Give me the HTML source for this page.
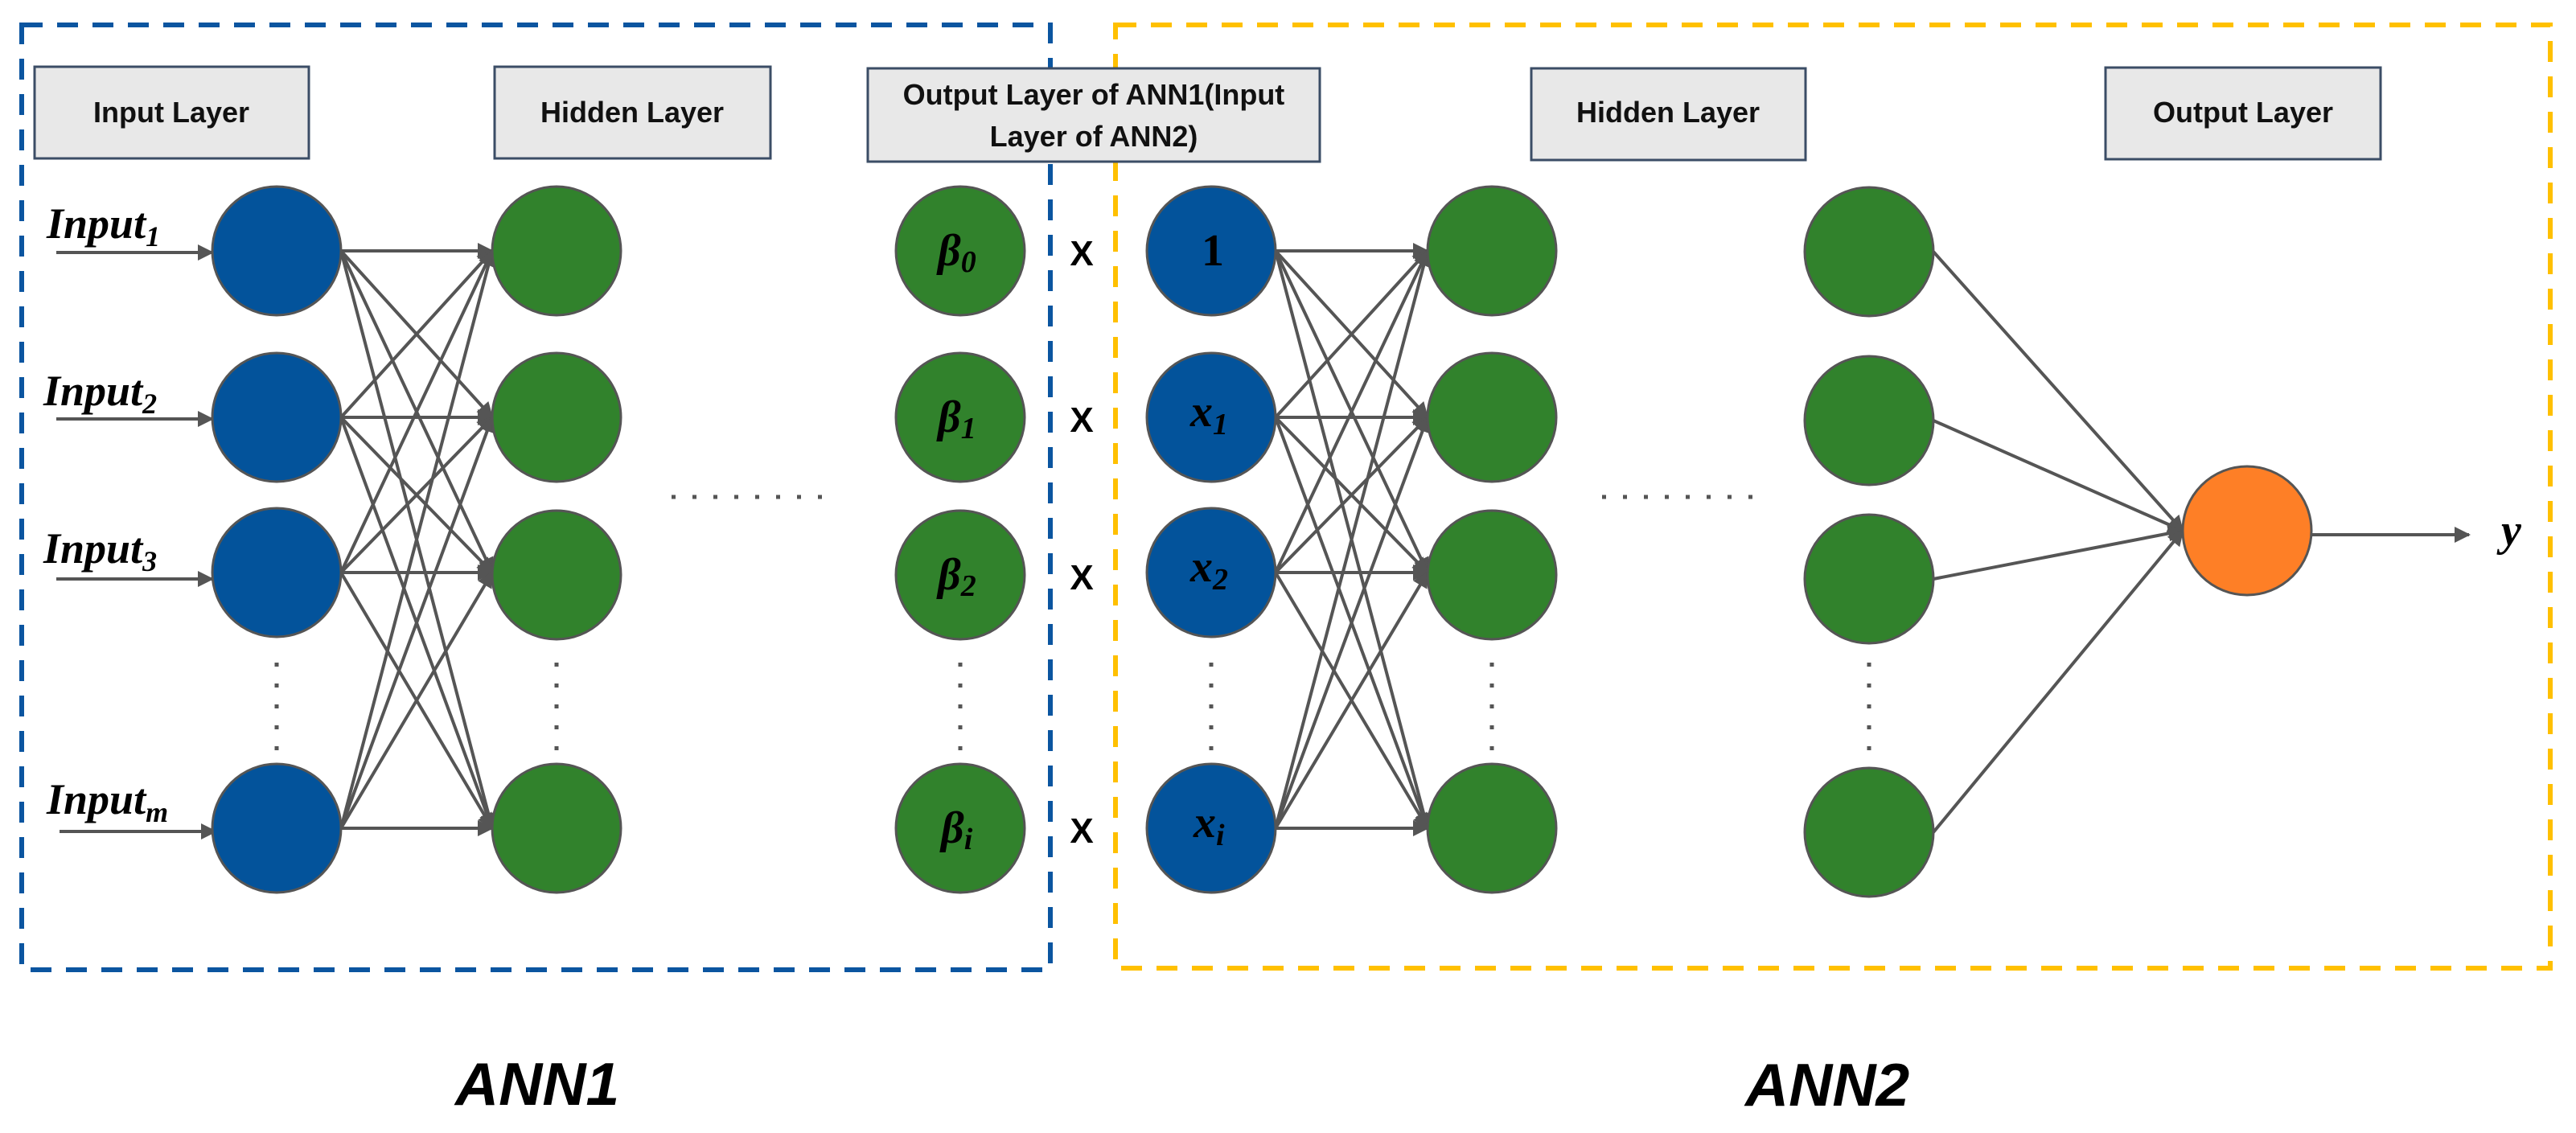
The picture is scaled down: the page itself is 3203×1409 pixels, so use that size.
<!DOCTYPE html>
<html><head><meta charset="utf-8"><style>
html,body{margin:0;padding:0;background:#fff;}
svg{display:block;}
.lbl{font-family:"Liberation Sans",sans-serif;font-weight:bold;font-size:36px;fill:#111;}
.m{font-family:"Liberation Serif",serif;font-style:italic;font-weight:bold;fill:#000;}
</style></head><body>
<svg width="3203" height="1409" viewBox="0 0 3203 1409" xmlns="http://www.w3.org/2000/svg">
<defs>
<marker id="a" viewBox="0 0 10 10" refX="9" refY="5" markerWidth="24" markerHeight="20" markerUnits="userSpaceOnUse" orient="auto"><path d="M0,0 L10,5 L0,10 z" fill="#555"/></marker>
</defs>
<rect x="27" y="31" width="1279" height="1175" fill="none" stroke="#0b55a0" stroke-width="6" stroke-dasharray="26,18"/>
<rect x="1387" y="31" width="1784" height="1173" fill="none" stroke="#ffc000" stroke-width="6" stroke-dasharray="26,18"/>

<g stroke="#3b4d66" stroke-width="3" fill="#e8e8e8">
<rect x="43" y="83" width="341" height="114"/>
<rect x="615" y="83" width="343" height="114"/>
<rect x="1079" y="85" width="562" height="116"/>
<rect x="1904" y="85" width="341" height="114"/>
<rect x="2618" y="84" width="342" height="114"/>
</g>
<text class="lbl" x="213" y="152" text-anchor="middle">Input Layer</text>
<text class="lbl" x="786" y="152" text-anchor="middle">Hidden Layer</text>
<text class="lbl" x="1360" y="130" text-anchor="middle">Output Layer of ANN1(Input</text>
<text class="lbl" x="1360" y="182" text-anchor="middle">Layer of ANN2)</text>
<text class="lbl" x="2074" y="152" text-anchor="middle">Hidden Layer</text>
<text class="lbl" x="2789" y="152" text-anchor="middle">Output Layer</text>

<g stroke="#555" stroke-width="4" fill="none" marker-end="url(#a)">
<line x1="424" y1="312" x2="612" y2="312"/><line x1="424" y1="312" x2="612" y2="519"/><line x1="424" y1="312" x2="612" y2="712"/><line x1="424" y1="312" x2="612" y2="1030"/>
<line x1="424" y1="519" x2="612" y2="312"/><line x1="424" y1="519" x2="612" y2="519"/><line x1="424" y1="519" x2="612" y2="712"/><line x1="424" y1="519" x2="612" y2="1030"/>
<line x1="424" y1="712" x2="612" y2="312"/><line x1="424" y1="712" x2="612" y2="519"/><line x1="424" y1="712" x2="612" y2="712"/><line x1="424" y1="712" x2="612" y2="1030"/>
<line x1="424" y1="1030" x2="612" y2="312"/><line x1="424" y1="1030" x2="612" y2="519"/><line x1="424" y1="1030" x2="612" y2="712"/><line x1="424" y1="1030" x2="612" y2="1030"/>
<line x1="1586" y1="312" x2="1775" y2="312"/><line x1="1586" y1="312" x2="1775" y2="519"/><line x1="1586" y1="312" x2="1775" y2="712"/><line x1="1586" y1="312" x2="1775" y2="1030"/>
<line x1="1586" y1="519" x2="1775" y2="312"/><line x1="1586" y1="519" x2="1775" y2="519"/><line x1="1586" y1="519" x2="1775" y2="712"/><line x1="1586" y1="519" x2="1775" y2="1030"/>
<line x1="1586" y1="712" x2="1775" y2="312"/><line x1="1586" y1="712" x2="1775" y2="519"/><line x1="1586" y1="712" x2="1775" y2="712"/><line x1="1586" y1="712" x2="1775" y2="1030"/>
<line x1="1586" y1="1030" x2="1775" y2="312"/><line x1="1586" y1="1030" x2="1775" y2="519"/><line x1="1586" y1="1030" x2="1775" y2="712"/><line x1="1586" y1="1030" x2="1775" y2="1030"/>
<line x1="2404" y1="313" x2="2714" y2="660"/><line x1="2404" y1="523" x2="2714" y2="660"/><line x1="2404" y1="720" x2="2714" y2="660"/><line x1="2404" y1="1035" x2="2714" y2="660"/>
<line x1="2874" y1="665" x2="3070" y2="665"/>
<line x1="70" y1="314" x2="264" y2="314"/><line x1="70" y1="521" x2="264" y2="521"/><line x1="70" y1="720" x2="264" y2="720"/><line x1="74" y1="1034" x2="268" y2="1034"/>
</g>

<g stroke="#555" stroke-width="3">
<g fill="#03539b">
<circle cx="344" cy="312" r="80"/><circle cx="344" cy="519" r="80"/><circle cx="344" cy="712" r="80"/><circle cx="344" cy="1030" r="80"/>
<circle cx="1506" cy="312" r="80"/><circle cx="1506" cy="519" r="80"/><circle cx="1506" cy="712" r="80"/><circle cx="1506" cy="1030" r="80"/>
</g>
<g fill="#31822c">
<circle cx="692" cy="312" r="80"/><circle cx="692" cy="519" r="80"/><circle cx="692" cy="715" r="80"/><circle cx="692" cy="1030" r="80"/>
<circle cx="1194" cy="312" r="80"/><circle cx="1194" cy="519" r="80"/><circle cx="1194" cy="715" r="80"/><circle cx="1194" cy="1030" r="80"/>
<circle cx="1855" cy="312" r="80"/><circle cx="1855" cy="519" r="80"/><circle cx="1855" cy="715" r="80"/><circle cx="1855" cy="1030" r="80"/>
<circle cx="2324" cy="313" r="80"/><circle cx="2324" cy="523" r="80"/><circle cx="2324" cy="720" r="80"/><circle cx="2324" cy="1035" r="80"/>
</g>
<circle cx="2794" cy="660" r="80" fill="#fe7f26"/>
</g>

<g stroke="#555" stroke-width="5" stroke-dasharray="5,21" fill="none">
<line x1="835" y1="618" x2="1030" y2="618"/>
<line x1="1992" y1="618" x2="2190" y2="618"/>
<line x1="344" y1="824" x2="344" y2="944"/>
<line x1="692" y1="824" x2="692" y2="944"/>
<line x1="1194" y1="824" x2="1194" y2="944"/>
<line x1="1506" y1="824" x2="1506" y2="944"/>
<line x1="1855" y1="824" x2="1855" y2="944"/>
<line x1="2324" y1="824" x2="2324" y2="944"/>
</g>

<g class="m" font-size="54">
<text x="58" y="296">Input<tspan font-size="36" dy="10">1</tspan></text>
<text x="54" y="504">Input<tspan font-size="36" dy="10">2</tspan></text>
<text x="54" y="700">Input<tspan font-size="36" dy="10">3</tspan></text>
<text x="58" y="1012">Input<tspan font-size="36" dy="10">m</tspan></text>
</g>
<g class="m" font-size="56">
<text x="1166" y="330">β<tspan font-size="38" dy="8">0</tspan></text>
<text x="1166" y="537">β<tspan font-size="38" dy="8">1</tspan></text>
<text x="1166" y="733">β<tspan font-size="38" dy="8">2</tspan></text>
<text x="1170" y="1048">β<tspan font-size="38" dy="8">i</tspan></text>
<text x="1494" y="330" font-style="normal">1</text>
<text x="1480" y="530">x<tspan font-size="38" dy="10">1</tspan></text>
<text x="1480" y="723">x<tspan font-size="38" dy="10">2</tspan></text>
<text x="1484" y="1041">x<tspan font-size="38" dy="10">i</tspan></text>
<text x="3110" y="678">y</text>
</g>
<g font-family="Liberation Sans,sans-serif" font-weight="bold" font-size="44" fill="#000">
<text x="1345" y="330" text-anchor="middle">X</text>
<text x="1345" y="537" text-anchor="middle">X</text>
<text x="1345" y="733" text-anchor="middle">X</text>
<text x="1345" y="1048" text-anchor="middle">X</text>
</g>
<g font-family="Liberation Sans,sans-serif" font-weight="bold" font-style="italic" font-size="75" fill="#000">
<text x="566" y="1374">ANN1</text>
<text x="2170" y="1375">ANN2</text>
</g>
</svg>
</body></html>
